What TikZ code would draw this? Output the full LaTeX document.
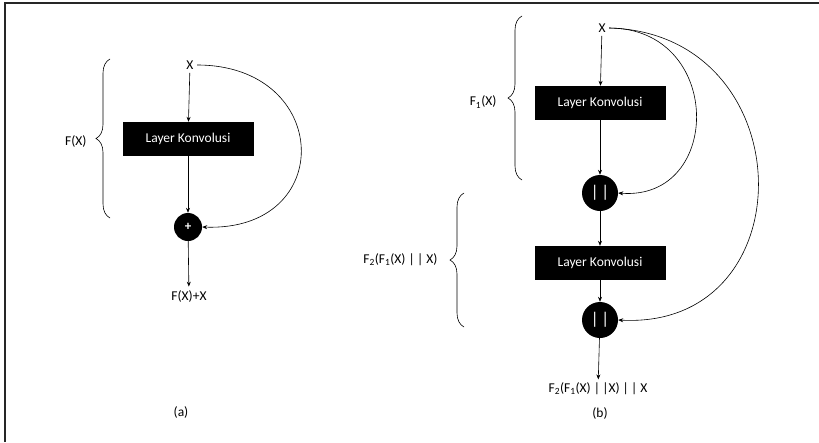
\documentclass[tikz,border=0pt]{standalone}
\usepackage{fontspec}
\setmainfont{Carlito}
\usetikzlibrary{arrows.meta,decorations.pathreplacing}
\begin{document}
\begin{tikzpicture}[x=1pt, y=-1pt, font=\fontsize{13.5}{15}\selectfont,
    layer/.style={fill=black, text=white, minimum width=131, minimum height=34, inner sep=0pt},
    join/.style={circle, fill=black, text=white, minimum size=#1, inner sep=0pt},
    flow/.style={-{Stealth[length=5pt, width=4pt]}, line width=0.6pt},
    bracket/.style={decorate, decoration={brace, amplitude=14pt}, line width=0.6pt}]
%	\draw[help lines] (0,0) grid[step=50] (819,442);
	\useasboundingbox (0,0) rectangle (819,442);
	\draw[line width=2.5pt, color=black!85] (5,442) |- (819,3);
	% (a) residual
	\node (xa) at (190, 65) {X};
	\node[layer] (conva) at (188, 139) {Layer Konvolusi};
	\node[join=28, font=\fontsize{13}{14}\bfseries] (suma) at (188, 227) {+};
	\node (outa) at (189, 296) {F(X)+X};
	\node (capa) at (181, 412) {(a)};
	\draw[flow] (xa) -- (conva);
	\draw[flow] (conva) -- (suma);
	\draw[flow] (suma) -- (outa);
	\draw[flow] (xa.east) .. controls +(135,0) and +(135,5) .. (suma.east);
	\draw[bracket] (110,218) -- (110,59);
	\node[anchor=east] (fa) at (90, 141) {F(X)};
	% (b) dense
	\node (xb) at (602, 28) {X};
	\node[layer] (convb1) at (600, 103) {Layer Konvolusi};
	\node[join=36, font=\fontsize{17}{18}\selectfont] (catb1) at (600, 193) {|\,|};
	\node[layer] (convb2) at (600, 263) {Layer Konvolusi};
	\node[join=36, font=\fontsize{17}{18}\selectfont] (catb2) at (600, 320) {|\,|};
	\node (outb) at (598, 389) {F\textsubscript{2}(F\textsubscript{1}(X) |\,|X) |\,| X};
	\node (capb) at (600, 413) {(b)};
	\draw[flow] (xb) -- (convb1);
	\draw[flow] (convb1) -- (catb1);
	\draw[flow] (catb1) -- (convb2);
	\draw[flow] (convb2) -- (catb2);
	\draw[flow] (catb2) -- (outb);
	\draw[flow] (xb.east) .. controls +(115,0) and +(105,8) .. (catb1.east);
	\draw[flow] (xb.east) .. controls +(195,5) and +(190,10) .. (catb2.east);
	\draw[bracket] (522,180) -- (522,16);
	\node[anchor=east] (fb1) at (500, 102) {F\textsubscript{1}(X)};
	\draw[bracket] (464,327) -- (464,193);
	\node[anchor=east] (fb2) at (441, 260) {F\textsubscript{2}(F\textsubscript{1}(X) |\,| X)};
\end{tikzpicture}
\end{document}
